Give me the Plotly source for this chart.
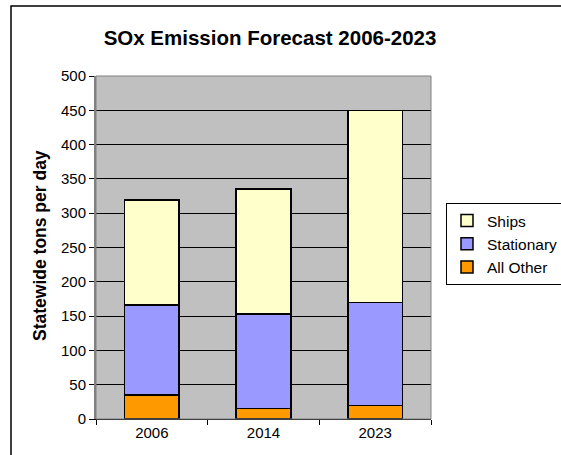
import plotly.graph_objects as go

years = ["2006", "2014", "2023"]
all_other = [35, 15, 20]
stationary = [131, 138, 150]
ships = [153, 182, 280]

series = [
    ("All Other", all_other, "#FF9900"),
    ("Stationary", stationary, "#9999FF"),
    ("Ships", ships, "#FFFFCC"),
]

fig = go.Figure()
for name, vals, color in series:
    fig.add_trace(go.Bar(
        x=years, y=vals, name=name,
        marker=dict(color=color, line=dict(color="black", width=1.5)),
    ))

L, R, T, B = 96, 130, 76, 36
W, H = 561, 455
pw, ph = W - L - R, H - T - B

def px_x(p):
    return (p - L) / pw

def px_y(p):
    return (H - B - p) / ph

fig.update_layout(
    width=W, height=H,
    margin=dict(l=L, r=R, t=T, b=B, autoexpand=False),
    barmode="stack",
    bargap=0.51,
    paper_bgcolor="white",
    plot_bgcolor="#C0C0C0",
    font=dict(family="Liberation Sans, Arial, sans-serif", color="black", size=15),
    title=dict(text="<b>SOx Emission Forecast 2006-2023</b>",
               x=270 / W, xanchor="center", y=1 - 38 / H, yanchor="middle",
               font=dict(size=20.5, color="black")),
    showlegend=True,
    legend=dict(traceorder="reversed", x=px_x(446), y=px_y(203),
                xanchor="left", yanchor="top",
                bordercolor="black", borderwidth=1, bgcolor="white",
                font=dict(size=15.5), itemwidth=30, tracegroupgap=0),
    xaxis=dict(type="category", tickson="boundaries", ticks="outside",
               ticklen=5, tickcolor="black", showline=True, linecolor="black",
               linewidth=1, tickfont=dict(size=15)),
    yaxis=dict(range=[0, 500], dtick=50, tick0=0, ticks="outside", ticklen=5,
               tickcolor="black", showgrid=True, gridcolor="black", gridwidth=1,
               showline=True, linecolor="#808080", linewidth=2,
               zeroline=False, tickfont=dict(size=15)),
    annotations=[dict(text="<b>Statewide tons per day</b>", xref="paper", yref="paper",
                      x=px_x(28), y=px_y(246), textangle=-90, showarrow=False,
                      font=dict(size=17.5, color="black"))],
    shapes=[
        dict(type="rect", xref="paper", yref="paper", x0=0, x1=1, y0=0, y1=1,
             line=dict(color="#808080", width=1), layer="above"),
        dict(type="rect", xref="paper", yref="paper",
             x0=px_x(11), x1=px_x(575), y0=px_y(470), y1=px_y(6),
             line=dict(color="black", width=1.5), layer="above"),
    ],
)

fig.write_html("out.html")
